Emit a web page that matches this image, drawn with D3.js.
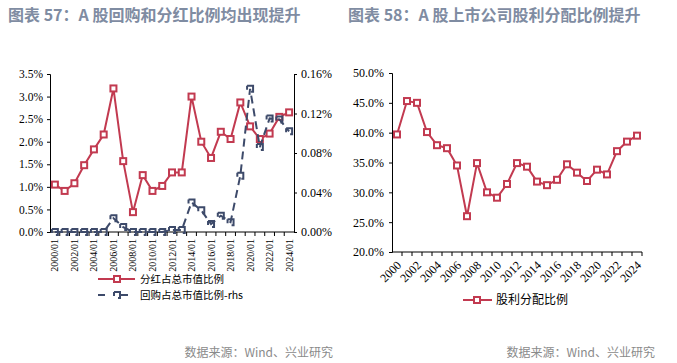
<!DOCTYPE html>
<html><head><meta charset="utf-8">
<script src="https://cdn.jsdelivr.net/npm/d3@7"></script>
<style>body{margin:0;background:#fff} svg{display:block}</style>
</head><body>
<svg id="c" width="677" height="363"></svg>
<script>
const years = ["2000","2001","2002","2003","2004","2005","2006","2007","2008","2009","2010","2011","2012","2013","2014","2015","2016","2017","2018","2019","2020","2021","2022","2023","2024"];
const leftXLabels = ["2000/01","2002/01","2004/01","2006/01","2008/01","2010/01","2012/01","2014/01","2016/01","2018/01","2020/01","2022/01","2024/01"];
const rightXLabels = ["2000","2002","2004","2006","2008","2010","2012","2014","2016","2018","2020","2022","2024"];
const dividendRatio = [1.05,0.91,1.08,1.48,1.83,2.16,3.18,1.57,0.44,1.26,0.91,1.02,1.32,1.32,3.00,2.00,1.64,2.22,2.06,2.87,2.34,2.06,2.18,2.55,2.65];
const buybackRatio = [0,0,0,0,0,0,0.014,0.005,0,0,0,0,0.002,0.002,0.030,0.022,0.008,0.0165,0.010,0.057,0.145,0.086,0.115,0.114,0.102];
const payoutRatio = [39.7,45.3,45.0,40.1,37.9,37.4,34.5,26.0,34.9,30.0,29.1,31.4,34.9,34.3,31.8,31.2,32.1,34.7,33.3,31.9,33.8,33.0,36.9,38.5,39.5];
const leftTicks = [0,0.5,1.0,1.5,2.0,2.5,3.0,3.5];
const rhsTicks = [0,0.04,0.08,0.12,0.16];
const rightTicks = [20,25,30,35,40,45,50];
const titles = ["图表 57：A 股回购和分红比例均出现提升","图表 58：A 股上市公司股利分配比例提升"];
const legendLeft = ["分红占总市值比例","回购占总市值比例-rhs"];
const legendRight = ["股利分配比例"];
const source = "数据来源：Wind、兴业研究";

const RED = "#C23A50", BLUE = "#3D4A6A", TITLE = "#7F8CA2";
const svg = d3.select("#c");
const serif = "'Liberation Serif','Times New Roman',serif";
const cjk = "'Noto Sans CJK SC','Noto Sans',sans-serif";

// titles
svg.append("text").attr("x",8).attr("y",21).text(titles[0])
  .attr("font-family",cjk).attr("font-size",16).attr("font-weight","bold").attr("fill",TITLE);
svg.append("text").attr("x",348).attr("y",21).text(titles[1])
  .attr("font-family",cjk).attr("font-size",16).attr("font-weight","bold").attr("fill",TITLE);
// sources
[333,655].forEach(x=>svg.append("text").attr("x",x).attr("y",357).attr("text-anchor","end")
  .text(source).attr("font-family",cjk).attr("font-size",12).attr("fill","#8a8a8a"));

function squareMarker(g, x, y, color, dashed){
  const s = 6;
  const r = g.append("rect").attr("x",x-s/2).attr("y",y-s/2).attr("width",s).attr("height",s)
    .attr("fill","#fff").attr("stroke",color).attr("stroke-width",2);
  if(dashed) r.attr("fill","none").attr("stroke-dasharray","14,6,4,0");
  return r;
}

// ---------- LEFT CHART ----------
const L = {x0:50, x1:294, y0:232, y1:74};
const xL = d3.scalePoint().domain(years).range([L.x0,L.x1]).padding(0.5);
const yL = d3.scaleLinear().domain([0,3.5]).range([L.y0,L.y1]);
const yR = d3.scaleLinear().domain([0,0.16]).range([L.y0,L.y1]);
const gL = svg.append("g");

const axL = d3.axisLeft(yL).tickValues(leftTicks).tickSize(3).tickFormat(d=>d.toFixed(1)+"%");
const aL = gL.append("g").attr("transform",`translate(${L.x0},0)`).call(axL);
const axR = d3.axisRight(yR).tickValues(rhsTicks).tickSize(3).tickFormat(d=>d.toFixed(2)+"%");
const aR = gL.append("g").attr("transform",`translate(${L.x1},0)`).call(axR);
[aL,aR].forEach(a=>{a.select(".domain").attr("stroke","#000");
  a.selectAll(".tick line").attr("stroke","#000");
  a.selectAll("text").attr("font-family",serif).attr("font-size",11.5).attr("fill","#000");});
aR.selectAll("text").attr("font-size",12).attr("x",7);
aL.selectAll("text").attr("x",-7);

const step = xL.step();
const xAx = gL.append("g");
xAx.append("line").attr("x1",L.x0).attr("x2",L.x1).attr("y1",L.y0).attr("y2",L.y0).attr("stroke","#000");
years.forEach((y,i)=>{ const bx = xL(y)-step/2;
  if(i>0) xAx.append("line").attr("x1",bx).attr("x2",bx).attr("y1",L.y0).attr("y2",L.y0+4).attr("stroke","#000");});
leftXLabels.forEach((lab,i)=>{ const x = xL(rightXLabels[i]);
  xAx.append("text").attr("transform",`translate(${x},${L.y0+7}) rotate(-90)`).attr("text-anchor","end")
    .attr("dy","0.35em").text(lab).attr("font-family",serif).attr("font-size",10).attr("fill","#000");});

const lineDiv = d3.line().x((d,i)=>xL(years[i])).y(d=>yL(d));
gL.append("path").datum(dividendRatio).attr("d",lineDiv).attr("fill","none").attr("stroke",RED).attr("stroke-width",2);
dividendRatio.forEach((v,i)=>squareMarker(gL,xL(years[i]),yL(v),RED,false));
const lineBuy = d3.line().x((d,i)=>xL(years[i])).y(d=>yR(d));
gL.append("path").datum(buybackRatio).attr("d",lineBuy).attr("fill","none").attr("stroke",BLUE)
  .attr("stroke-width",2).attr("stroke-dasharray","8,5");
buybackRatio.forEach((v,i)=>squareMarker(gL,xL(years[i]),yR(v),BLUE,true));

const lg = svg.append("g");
lg.append("line").attr("x1",98).attr("x2",135).attr("y1",279).attr("y2",279).attr("stroke",RED).attr("stroke-width",2);
squareMarker(lg,117,279,RED,false);
lg.append("text").attr("x",140).attr("y",283).text(legendLeft[0]).attr("font-family",cjk).attr("font-size",10.5).attr("fill","#000");
lg.append("line").attr("x1",98).attr("x2",135).attr("y1",295).attr("y2",295).attr("stroke",BLUE).attr("stroke-width",2).attr("stroke-dasharray","7,7,0,9,7");
squareMarker(lg,117,295,BLUE,true);
lg.append("text").attr("x",140).attr("y",299).text(legendLeft[1]).attr("font-family",cjk).attr("font-size",10.5).attr("fill","#000");

// ---------- RIGHT CHART ----------
const R = {x0:392, x1:642, y0:252, y1:73};
const xP = d3.scalePoint().domain(years).range([R.x0,R.x1]).padding(0.5);
const yP = d3.scaleLinear().domain([20,50]).range([R.y0,R.y1]);
const gR = svg.append("g");
const axP = d3.axisLeft(yP).tickValues(rightTicks).tickSize(3).tickFormat(d=>d.toFixed(1)+"%");
const aP = gR.append("g").attr("transform",`translate(${R.x0},0)`).call(axP);
aP.select(".domain").attr("stroke","#000");
aP.selectAll(".tick line").attr("stroke","#000");
aP.selectAll("text").attr("font-family",serif).attr("font-size",12).attr("fill","#000").attr("x",-8);
const stepP = xP.step();
const xPa = gR.append("g");
xPa.append("line").attr("x1",R.x0).attr("x2",R.x1).attr("y1",R.y0).attr("y2",R.y0).attr("stroke","#000");
years.forEach((y,i)=>{ const bx = xP(y)+stepP/2;
  xPa.append("line").attr("x1",bx).attr("x2",bx).attr("y1",R.y0).attr("y2",R.y0+4).attr("stroke","#000");});
rightXLabels.forEach(lab=>{ const x = xP(lab);
  xPa.append("text").attr("transform",`translate(${x+2},${R.y0+11}) rotate(-45)`).attr("text-anchor","end")
    .attr("dy","0.35em").text(lab).attr("font-family",serif).attr("font-size",12).attr("fill","#000");});
const lineP = d3.line().x((d,i)=>xP(years[i])).y(d=>yP(d));
gR.append("path").datum(payoutRatio).attr("d",lineP).attr("fill","none").attr("stroke",RED).attr("stroke-width",2);
payoutRatio.forEach((v,i)=>squareMarker(gR,xP(years[i]),yP(v),RED,false));
const lr = svg.append("g");
lr.append("line").attr("x1",463).attr("x2",492).attr("y1",300).attr("y2",300).attr("stroke",RED).attr("stroke-width",2);
squareMarker(lr,477,300,RED,false);
lr.append("text").attr("x",496).attr("y",304).text(legendRight[0]).attr("font-family",cjk).attr("font-size",12).attr("fill","#000");
</script>
</body></html>
